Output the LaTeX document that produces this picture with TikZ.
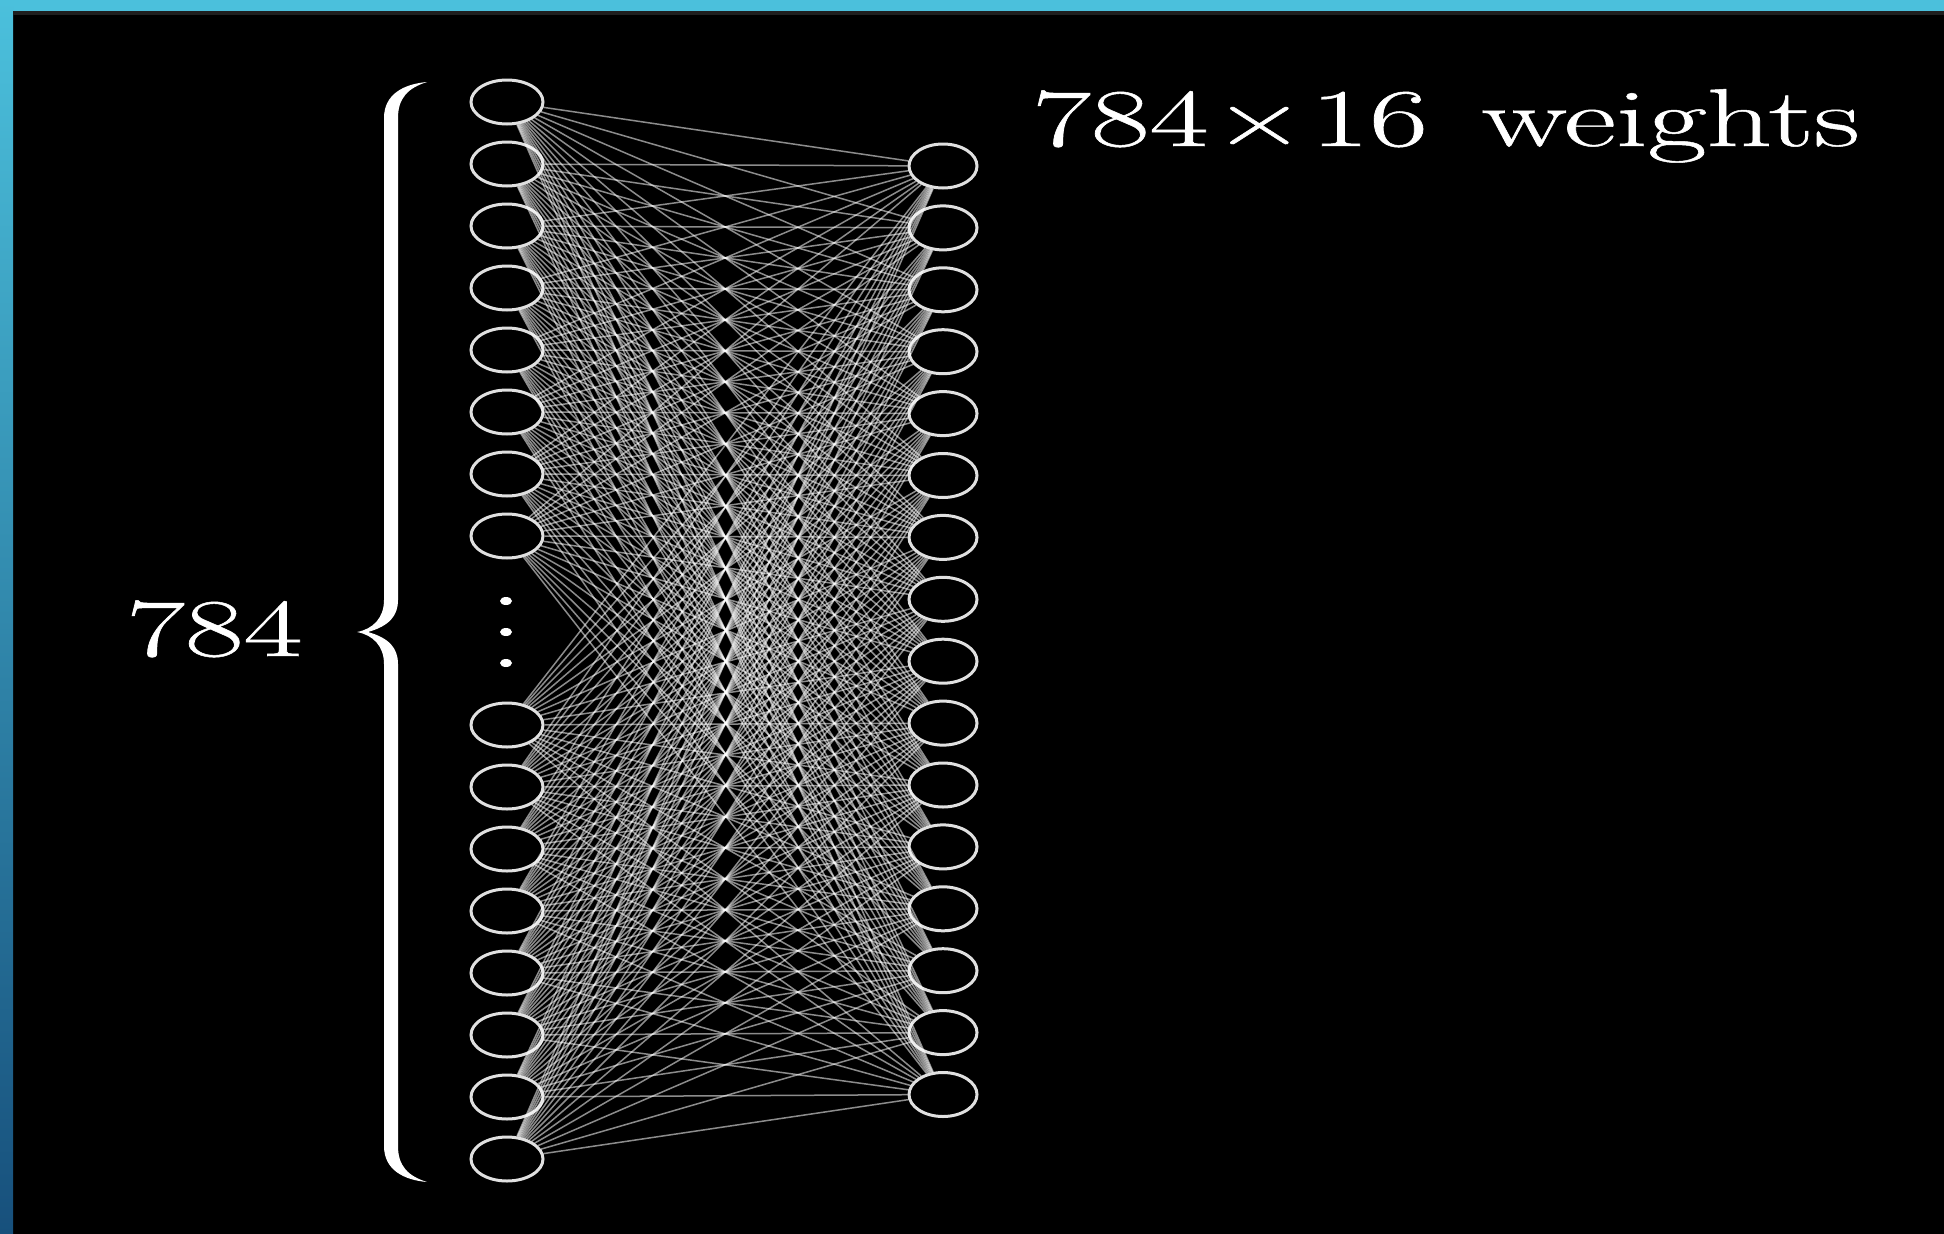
\documentclass[tikz,border=0pt]{standalone}
\usepackage{fontspec}
\newfontfamily\lblfont[FakeBold=0.6]{Latin Modern Roman}
\usetikzlibrary{shapes.geometric}
\definecolor{barcyan}{HTML}{4BC0DC}
\definecolor{bardark}{HTML}{17507C}
\begin{document}
\begin{tikzpicture}[x=1pt,y=-1pt,
  neuron/.style={ellipse, draw=white!88!black, line width=3pt, minimum width=72pt, minimum height=44pt, inner sep=0pt},
  weight/.style={white, opacity=0.55, line width=1.5pt},
  lbl/.style={white, inner sep=0pt, font=\lblfont\fontsize{82pt}{98pt}\selectfont}]
\useasboundingbox (0,0) rectangle (1944,1234);
\fill[black] (0,0) rectangle (1944,1234);
\fill[barcyan] (0,0) rectangle (1944,11);
\shade[top color=barcyan, bottom color=bardark] (0,0) rectangle (13,1234);
\fill[black!88] (13,11) rectangle (1944,15);
% input neurons
\foreach \i in {1,...,8} \node[neuron] (l\i) at (507, {102+62*(\i-1)}) {};
\foreach \i in {9,...,16} \node[neuron] (l\i) at (507, {725+62*(\i-9)}) {};
% hidden neurons
\foreach \k in {1,...,16} \node[neuron, minimum width=68pt] (r\k) at (943, {166+61.9*(\k-1)}) {};
% weights
\foreach \a in {1,...,16} \foreach \b in {1,...,16} \draw[weight] (l\a) -- (r\b);
% dots
\fill[white] (506,601) ellipse (6pt and 4pt);
\fill[white] (506,632) ellipse (6pt and 4pt);
\fill[white] (506,663) ellipse (6pt and 4pt);
% brace
\fill[white] (427,82) .. controls (404,84) and (384,94) .. (384,118) -- (384,600)
  .. controls (384,618) and (373,629) .. (357,632)
  .. controls (373,635) and (384,646) .. (384,664) -- (384,1146)
  .. controls (384,1170) and (404,1180) .. (427,1182)
  .. controls (408,1176) and (398,1166) .. (398,1146) -- (398,664)
  .. controls (398,648) and (389,638) .. (368,632)
  .. controls (389,626) and (398,616) .. (398,600) -- (398,118)
  .. controls (398,98) and (408,88) .. (427,82) -- cycle;
% labels
\node[lbl, anchor=base west] (n784) at (126,656) {\scalebox{1.56}[1]{784}};
\node[lbl, anchor=base west] (wts) at (1032,146) {\scalebox{1.56}[1]{784\kern0.04em×\kern0.04em16\hspace{0.42em}weights}};
\end{tikzpicture}
\end{document}
